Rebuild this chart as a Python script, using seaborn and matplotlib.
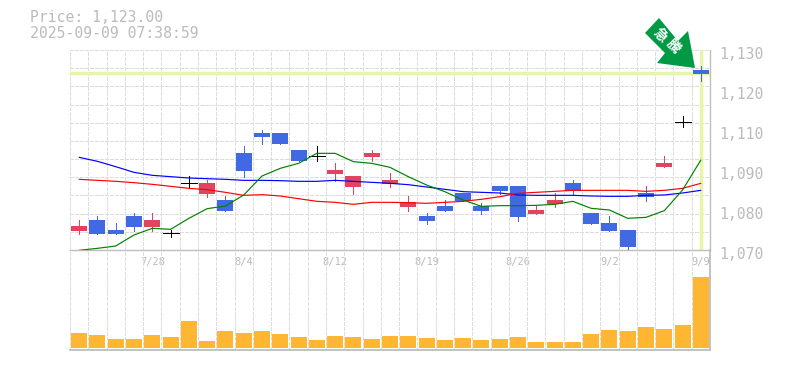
import matplotlib
matplotlib.use("Agg")
import matplotlib.pyplot as plt
import matplotlib.transforms as mtrans
from matplotlib.patches import Polygon
import seaborn as sns
import pandas as pd

# daily candles
opens = [1077.2, 1074.8, 1074.8, 1076.9, 1079.0, 1075.0, 1090.1, 1090.1, 1081.7, 1093.7, 1103.9, 1101.8,
         1096.7, 1098.2, 1094.0, 1092.2, 1099.1, 1091.0, 1084.4, 1078.7, 1081.7, 1084.7, 1081.7, 1087.7,
         1079.9, 1082.0, 1085.0, 1087.7, 1077.8, 1075.7, 1070.9, 1085.9, 1096.1, 1108.4, 1122.8]
closes = [1075.7, 1079.0, 1076.0, 1080.2, 1076.9, 1075.0, 1090.1, 1086.8, 1085.0, 1099.1, 1105.1, 1105.1,
          1100.0, 1098.2, 1092.8, 1088.9, 1097.9, 1089.8, 1082.9, 1080.2, 1083.2, 1087.1, 1083.2, 1089.2,
          1089.2, 1080.8, 1083.8, 1090.1, 1081.1, 1078.1, 1076.0, 1087.1, 1094.9, 1108.4, 1124.0]
highs = [1079.0, 1080.2, 1078.1, 1081.1, 1081.1, 1076.0, 1092.2, 1091.0, 1086.2, 1101.2, 1106.0, 1105.1,
         1100.0, 1101.2, 1096.1, 1092.2, 1100.0, 1093.1, 1086.2, 1081.1, 1085.0, 1087.1, 1084.1, 1089.2,
         1089.2, 1083.2, 1087.1, 1091.0, 1081.1, 1080.2, 1076.0, 1089.2, 1098.2, 1110.2, 1125.2]
lows = [1074.8, 1074.8, 1074.8, 1075.7, 1075.7, 1073.9, 1088.9, 1085.9, 1081.7, 1091.9, 1101.8, 1101.8,
        1096.7, 1096.7, 1090.7, 1086.8, 1096.7, 1088.9, 1081.7, 1077.8, 1081.7, 1084.7, 1080.8, 1086.8,
        1078.7, 1080.8, 1082.9, 1086.8, 1077.8, 1075.7, 1069.7, 1084.7, 1094.9, 1106.9, 1120.7]

# moving averages
ma_green = [1069.9, 1070.5, 1071.2, 1074.5, 1076.5, 1076.2, 1079.5, 1082.4, 1083.2, 1086.5, 1092.2, 1094.5,
            1096.0, 1099.0, 1099.0, 1096.5, 1096.0, 1094.8, 1092.0, 1089.5, 1087.5, 1085.0, 1083.1, 1083.3,
            1083.3, 1083.4, 1083.7, 1084.6, 1082.5, 1082.0, 1079.5, 1079.8, 1081.8, 1088.0, 1097.0]
ma_red = [1091.2, 1090.9, 1090.6, 1090.2, 1089.7, 1089.1, 1088.5, 1088.1, 1087.3, 1086.4, 1086.6, 1086.2,
          1085.4, 1084.6, 1084.3, 1083.7, 1084.3, 1084.3, 1084.2, 1084.0, 1084.3, 1084.6, 1085.2, 1086.0,
          1087.0, 1087.3, 1087.6, 1087.9, 1087.9, 1087.9, 1087.9, 1087.6, 1087.9, 1088.5, 1090.0]
ma_blue = [1097.8, 1096.6, 1095.0, 1093.3, 1092.4, 1092.0, 1091.6, 1091.4, 1091.2, 1090.9, 1090.9, 1090.8,
           1090.6, 1090.6, 1090.9, 1090.6, 1090.3, 1090.0, 1089.6, 1088.9, 1088.2, 1087.5, 1087.3, 1087.1,
           1086.5, 1086.4, 1086.4, 1086.4, 1086.2, 1086.1, 1086.1, 1086.4, 1086.5, 1087.1, 1087.9]

volume = [15, 13, 9, 9, 13, 11, 27, 7, 17, 15, 17, 14, 11, 8, 12, 11, 9, 12, 12, 10, 8, 10, 8, 9, 11, 6, 6, 6,
          14, 18, 17, 21, 19, 23, 71]

date_pos = [4, 9, 14, 19, 24, 29, 34]
date_labels = ["7/28", "8/4", "8/12", "8/19", "8/26", "9/2", "9/9"]
price_ticks = [1130, 1118, 1106, 1094, 1082, 1070]
price_labels = ["1,130", "1,120", "1,110", "1,090", "1,080", "1,070"]
last_price = 1123

df = pd.DataFrame({"day": range(len(opens)), "open": opens, "close": closes, "high": highs, "low": lows,
                   "green": ma_green, "red": ma_red, "blue": ma_blue, "volume": volume})

BLUE = "#4169E1"
RED = "#E2445F"
LIME = "#E6F5A8"
GREY = "#BDBDBD"
TEXT = "#BBBBBB"
GRID = "#DDDDDD"
DASH = (0, (3, 2))
PX = 0.72  # one pixel line at dpi 100

sns.set_style("white")
plt.rcParams["font.family"] = ["DejaVu Sans Mono", "Noto Sans CJK JP"]

W, H = 785, 370
fig = plt.figure(figsize=(W / 100, H / 100), dpi=100)
ax = fig.add_axes([70 / W, (H - 250) / H, 640 / W, 200 / H])
ax_vol = fig.add_axes([70 / W, (H - 350) / H, 640 / W, 100 / H])

edges = [i - 0.5 for i in range(len(df))]
ax.set_xlim(-0.5, len(df) - 0.5)
ax.set_ylim(1070, 1130)
for a in (ax, ax_vol):
    a.patch.set_alpha(0)
    a.set_axisbelow(True)
    for x in edges:
        a.axvline(x, color=GRID, lw=PX, ls=DASH, zorder=0, antialiased=False, clip_on=False)
for n in range(12):
    ax.axhline(1070 + n * 60 / 11, color=GRID, lw=PX, ls=DASH, zorder=0, antialiased=False, clip_on=False)

ax.axhline(last_price, color=LIME, lw=2.5, zorder=1)
ax.axvline(len(df) - 1, color=LIME, lw=2.5, zorder=1)

up = df[df["close"] > df["open"]]
down = df[df["close"] < df["open"]]
flat = df[df["close"] == df["open"]]
for part, col in ((up, BLUE), (down, RED), (flat, "black")):
    ax.vlines(part["day"], part["low"], part["high"], color=col, lw=PX, zorder=3, antialiased=False)
    ax.bar(part["day"], (part["close"] - part["open"]).abs(), bottom=part[["open", "close"]].min(axis=1),
           width=0.875, color=col, lw=0, zorder=3, antialiased=False)
ax.hlines(flat["close"], flat["day"] - 0.44, flat["day"] + 0.44, color="black", lw=PX, zorder=3, antialiased=False)

sns.lineplot(data=df, x="day", y="blue", color="#0000FF", linewidth=0.85, ax=ax, zorder=4)
sns.lineplot(data=df, x="day", y="red", color="#FF0000", linewidth=0.85, ax=ax, zorder=4)
sns.lineplot(data=df, x="day", y="green", color="#008000", linewidth=0.85, ax=ax, zorder=4)

sns.barplot(data=df, x="day", y="volume", native_scale=True, color="#FFB733", saturation=1, width=0.875,
            linewidth=0, ax=ax_vol, zorder=3, antialiased=False)
ax_vol.set_xlim(-0.5, len(df) - 0.5)
ax_vol.set_ylim(-2, 98)

ax.set_xlabel("")
ax.set_ylabel("")
ax_vol.set_xlabel("")
ax_vol.set_ylabel("")
ax.set_xticks(date_pos, date_labels)
ax.tick_params(axis="x", length=0, pad=5, labelsize=7.5, labelcolor=TEXT)
ax.yaxis.tick_right()
ax.set_yticks(price_ticks, price_labels)
ax.tick_params(axis="y", length=0, pad=6.5, labelsize=10.6, labelcolor=TEXT)
shift = mtrans.ScaledTranslation(0, -3 / 100, fig.dpi_scale_trans)
for lab in ax.get_yticklabels():
    lab.set_transform(lab.get_transform() + shift)
ax_vol.set_xticks([])
ax_vol.set_yticks([])

for a in (ax, ax_vol):
    for side in ("top", "left"):
        a.spines[side].set_visible(False)
    for side in ("right", "bottom"):
        a.spines[side].set_color(GREY)
        a.spines[side].set_linewidth(1)
ax_vol.spines["bottom"].set_linewidth(1.3)
ax_vol.spines["right"].set_linewidth(1.3)

fig.text(30 / W, 1 - 18 / H, "Price: 1,123.00", color=TEXT, fontsize=10.6, va="center")
fig.text(30 / W, 1 - 33 / H, "2025-09-09 07:38:59", color=TEXT, fontsize=10.6, va="center")

# green badge arrow, pixel outline
px = mtrans.Affine2D().scale(1 / W, -1 / H).translate(0, 1) + fig.transFigure
outline = [(659, 18), (645, 33), (665, 53), (657, 63), (695, 68), (688, 31), (678, 41)]
fig.add_artist(Polygon(outline, closed=True, color="#009944", lw=0, transform=px, zorder=5))
fig.text(660 / W, 1 - 35 / H, "急", color="white", fontsize=10, fontweight="bold", rotation=-45,
         ha="center", va="center", zorder=6)
fig.text(673 / W, 1 - 46 / H, "騰", color="white", fontsize=10, fontweight="bold", rotation=-45,
         ha="center", va="center", zorder=6)

fig.savefig("out.png", dpi=100)
